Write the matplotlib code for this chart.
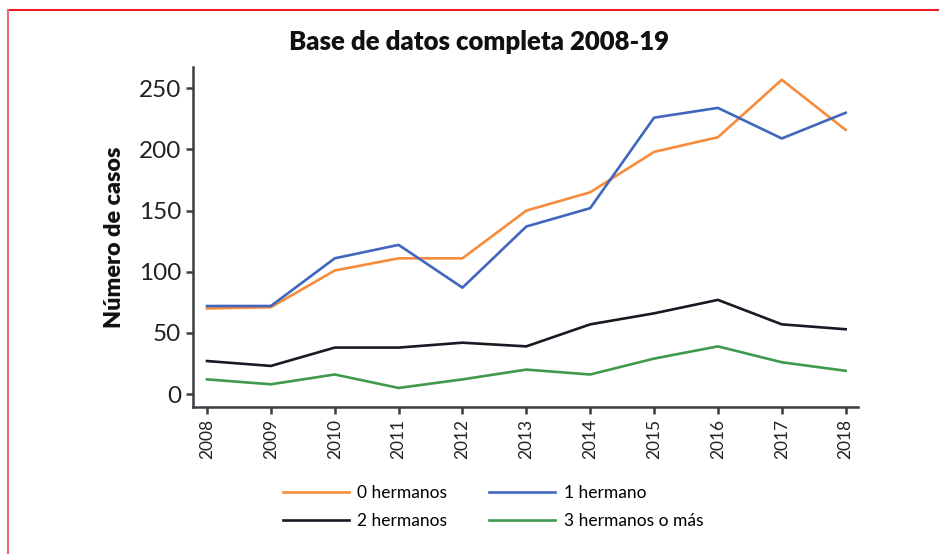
import matplotlib
matplotlib.use("Agg")
from matplotlib import pyplot as plt
from matplotlib.lines import Line2D

plt.rcParams['font.family'] = ['Lato', 'DejaVu Sans']

years = [2008, 2009, 2010, 2011, 2012, 2013, 2014, 2015, 2016, 2017, 2018]
hermanos_0 = [70, 71, 101, 111, 111, 150, 165, 198, 210, 257, 216]
hermanos_1 = [72, 72, 111, 122, 87, 137, 152, 226, 234, 209, 230]
hermanos_2 = [27, 23, 38, 38, 42, 39, 57, 66, 77, 57, 53]
hermanos_3 = [12, 8, 16, 5, 12, 20, 16, 29, 39, 26, 19]

labels = ['0 hermanos', '1 hermano', '2 hermanos', '3 hermanos o más']
colors = ['#f68c3c', '#4066bd', '#161a22', '#3f9a4c']

fig = plt.figure(figsize=(9.39, 5.54), dpi=100)
ax = fig.add_axes([0.2055, 0.2653, 0.708, 0.6137])

series = [hermanos_0, hermanos_1, hermanos_2, hermanos_3]
for vals, lab, col in zip(series, labels, colors):
    ax.plot(years, vals, color=col, lw=1.9, label=lab)

ax.set_xlim(2007.78, 2018.19)
ax.set_ylim(-10.6, 267.4)
ax.set_xticks(years)
ax.set_xticklabels([str(y) for y in years], rotation=90, fontsize=12.5, color='#222222')
ax.set_yticks([0, 50, 100, 150, 200, 250])
ax.tick_params(axis='y', labelsize=17.5, colors='#222222', length=5, width=1.8)
ax.tick_params(axis='x', length=5, width=1.8, colors='#222222')
ax.tick_params(axis='both', color='#3a3d44')

for side in ['top', 'right']:
    ax.spines[side].set_visible(False)
for side in ['left', 'bottom']:
    ax.spines[side].set_color('#3a3d44')
    ax.spines[side].set_linewidth(1.8)

ax.set_ylabel('Número de casos', fontsize=16.8, fontweight='heavy', color='#111111', labelpad=10)

fig.text(0.51, 0.924, 'Base de datos completa 2008-19', ha='center', va='center',
         fontsize=18.5, fontweight='heavy', color='#111111')

# legend fills row by row: 0, 1 / 2, 3
handles, labs = ax.get_legend_handles_labels()
order = [0, 2, 1, 3]
fig.legend([handles[i] for i in order], [labs[i] for i in order], ncol=2, loc='center',
           bbox_to_anchor=(0.525, 0.085), frameon=False, fontsize=12.5, handlelength=3.8,
           handletextpad=0.5, columnspacing=2.4, labelspacing=0.7)

# red frame around the figure (top and left edges visible)
fig.add_artist(Line2D([0.008, 1.0], [0.982, 0.982], color='#ec1c24', lw=1.5, transform=fig.transFigure))
fig.add_artist(Line2D([0.008, 0.008], [0.0, 0.982], color='#ef6b6f', lw=1.5, transform=fig.transFigure))

fig.savefig('out.png', dpi=100)
